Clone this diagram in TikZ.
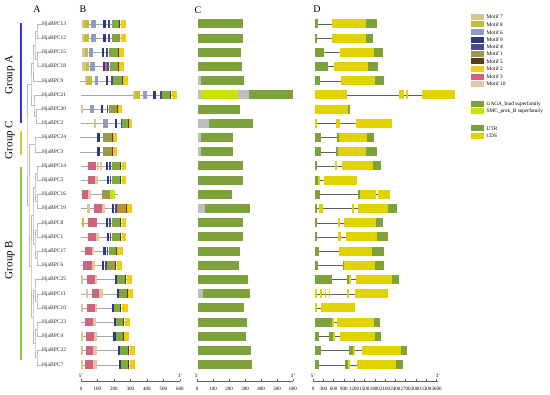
\documentclass[tikz,border=0pt]{standalone}
\usepackage{fontspec}
\setmainfont{Liberation Serif}
\definecolor{mseven}{HTML}{D9C38E}
\definecolor{meight}{HTML}{C4BD3A}
\definecolor{msix}{HTML}{8F9BC2}
\definecolor{mnine}{HTML}{2E3A80}
\definecolor{mfour}{HTML}{4B4A8F}
\definecolor{mone}{HTML}{9C9A44}
\definecolor{mgreen}{HTML}{7FA83F}
\definecolor{mfive}{HTML}{5A3B1F}
\definecolor{mtwo}{HTML}{F0CC12}
\definecolor{mthree}{HTML}{D0647C}
\definecolor{mten}{HTML}{E9C4A0}
\definecolor{gaga}{HTML}{7DA23C}
\definecolor{smc}{HTML}{C9E300}
\definecolor{domgray}{HTML}{BDBDBD}
\definecolor{utr}{HTML}{7DA23C}
\definecolor{cds}{HTML}{E1D300}
\definecolor{grpa}{HTML}{3434CC}
\definecolor{grpc}{HTML}{D0C820}
\definecolor{grpb}{HTML}{84D03C}
\usetikzlibrary{positioning}
\tikzset{
  genelab/.style={anchor=west, inner sep=0.5pt, font=\fontsize{5.5}{6}\selectfont, text=black!85},
  branch/.style={gray!55, line width=0.4pt},
  protline/.style={gray!70, line width=0.5pt},
  intron/.style={gray!75!black, line width=0.5pt},
  axisline/.style={gray!75!black, line width=0.4pt},
  ticklab/.style={font=\fontsize{5}{5}\selectfont, inner sep=0pt},
  panel/.style={font=\fontsize{10}{10}\selectfont, inner sep=0pt},
  grouplab/.style={rotate=90, font=\fontsize{11}{11}\selectfont, inner sep=0pt},
  legtext/.style={anchor=west, font=\fontsize{5.3}{6}\selectfont, inner sep=0pt},
  groupbar/.style={line width=1.5pt}
}
% motif row: y, line start, line end, colour/from/to list
\newcommand{\protrow}[4]{%
  \draw[protline] (#2,#1) -- (#3,#1);
  \foreach \col/\xa/\xb in {#4} {\fill[\col] (\xa,#1-4.3) rectangle (\xb,#1+4.3);}}
% domain row
\newcommand{\domrow}[2]{%
  \foreach \col/\xa/\xb in {#2} {\fill[\col] (\xa,#1-4.5) rectangle (\xb,#1+4.5);}}
% gene structure row
\newcommand{\exonrow}[4]{%
  \draw[intron] (#2,#1) -- (#3,#1);
  \foreach \col/\xa/\xb in {#4} {\fill[\col] (\xa,#1-4.5) rectangle (\xb,#1+4.5);}}
\begin{document}
\begin{tikzpicture}[x=1pt,y=-1pt]
  \path[fill=white] (0,0) rectangle (550,395);
  \useasboundingbox (0,0) rectangle (550,395);

  % panel letters
  \node[panel] (pa) at (37,9) {A};
  \node[panel] (pb) at (83,9) {B};
  \node[panel] (pc) at (198,10) {C};
  \node[panel] (pd) at (317,9) {D};

  % groups
  \draw[groupbar, grpa] (21,23) -- (21,123);
  \draw[groupbar, grpc] (21,131) -- (21,155);
  \draw[groupbar, grpb] (21,167) -- (21,360);
  \node[grouplab] (ga) at (10,75) {Group A};
  \node[grouplab] (gc) at (10,140) {Group C};
  \node[grouplab] (gb) at (10,260) {Group B};

  % gene names
  \foreach \n [count=\i] in {13,12,15,18,9,21,20,2,24,3,14,5,16,19,8,1,17,6,25,11,10,23,4,22,7}
    \node[genelab] (l\n) at (41.5,{24+14.2*(\i-1)}) {HjaBPC\n};

  % tree
  \foreach \n/\x/\y in {c12/37/31.1, c34/37/59.5, cx1/35/45.3, cx2/33/63.05,
      c78/36/116.3, c678/34/105.65, ca/31/84.35, cc/35/144.7,
      c1112/37/173.1, c1314/37/201.5, c1516/37/229.9, c1718/37/258.3,
      c1114/35/187.3, c1518/35/244.1, cb1/33/215.7, c2021/37/300.9,
      c1921/35/290.25, c2223/37/329.3, c2425/37/357.7, c2225/35/343.5,
      cb2/33/316.88, cb/31/266.3, ccb/29/205.5, root/27/144.9}
    \coordinate (\n) at (\x,\y);
  \foreach \a/\p/\b in {l13/c12/l12, l15/c34/l18, c12/cx1/c34, cx1/cx2/l9,
      l20/c78/l2, l21/c678/c78, cx2/ca/c678, l24/cc/l3,
      l14/c1112/l5, l16/c1314/l19, l8/c1516/l1, l17/c1718/l6,
      c1112/c1114/c1314, c1516/c1518/c1718, c1114/cb1/c1518,
      l11/c2021/l10, l25/c1921/c2021, l23/c2223/l4, l22/c2425/l7,
      c2223/c2225/c2425, c1921/cb2/c2225, cb1/cb/cb2, cc/ccb/cb, ca/root/ccb}
    \draw[branch] (\a) -| (\p) |- (\b);

  % B: motifs
  \protrow{24}{82}{126}{mseven/82/84, meight/84/89, msix/91/96, mnine/103/106, mfour/108/110, mgreen/112/119.3, mfive/119.3/120.3, mtwo/120.5/126}
  \protrow{38.2}{82}{126}{mseven/82/84, meight/84/89, msix/91/96, mnine/103/106, mfour/108/110, mgreen/112/119.3, mthree/119.3/120.3, mtwo/120.5/126}
  \protrow{52.4}{82}{124}{mseven/82/85, meight/85/88, msix/89/93, mnine/102/104, mfour/106/108, mgreen/109/118, mfive/118/119, mtwo/119/124}
  \protrow{66.6}{82}{124}{mseven/82/86, meight/86/89, msix/90/95, mnine/103/105, mthree/105/106.5, mfour/107/109, mgreen/110/118, mfive/118/119, mtwo/119/124}
  \protrow{80.8}{80}{128}{mseven/85/87, meight/87/92, msix/95/98, mnine/106/108, mfour/111/113, mgreen/113/122, mfive/122/123, mtwo/123/128}
  \protrow{95}{81}{177}{mseven/133/135, meight/135/140, msix/143/147, mnine/153/156, mfour/160/162, mgreen/162/170, mfive/170/171, mtwo/172/177}
  \protrow{109.2}{81}{122}{mseven/81/83, msix/90/94, mnine/101/103, mfour/107/108, mone/109/117, mfive/117/118, mtwo/118/122}
  \protrow{123.4}{81}{132}{mseven/94/96, msix/103/108, mnine/115/117, mfour/121/122, mgreen/122/128, mfive/128/129, mtwo/129/132}
  \protrow{137.6}{80}{117}{mnine/97/100, mone/103/112, mfive/112/113, mtwo/113/117}
  \protrow{151.8}{80}{117}{mnine/97/100, mone/103/112, mfive/112/113, mtwo/113/117}
  \protrow{166}{81}{126}{mthree/88/96, mten/97/99, mten/100/102, mnine/106/108, mfour/109/111, mgreen/112/120, mfive/120/121, mtwo/122/126}
  \protrow{180.2}{81}{126}{mthree/88/95, mten/95/98, mnine/107/109, mfour/110/111, mgreen/112/120, mfive/120/121, mtwo/122/126}
  \protrow{194.4}{81}{118}{mthree!85!gray/82/88, mten/88/91, mone/102/110, smc/110/115}
  \protrow{208.6}{81}{132}{mseven/87/90, mthree/94/102, mten/102/105, mnine/112/114, mfour/115/117, mthree/117/118, mone!70!orange/118/126, mfive/126/127, mtwo/127/132}
  \protrow{222.8}{81}{126}{meight/82/83.5, mthree/88/97, mnine/106/108, mfour/109/111, mgreen/112/120, mfive/120/121, mtwo/122/126}
  \protrow{237}{81}{126}{mthree/88/96, mten/96/99, mnine/107/109, mfour/110/111, mgreen/112/120, mfive/120/121, mtwo/122/126}
  \protrow{251.2}{81}{123}{mthree!85!gray/85/92, mten/92/94, mnine/103/106, mfour/107/108, mgreen/109/116, mfive/116/117, mtwo/117/123}
  \protrow{265.4}{81}{122}{mthree!85!gray/83/92, mten/92/95, mnine/102/104, mfour/105/107, mone/107/115, mfive/115/116, mtwo/117/122}
  \protrow{279.6}{81}{132}{mseven/81/83, mthree/87/95, mten/95/97, mnine/115/117, mgreen/117/125, mfive/125/126, mtwo/127/132}
  \protrow{293.8}{81}{133}{mseven/86/88, mthree!85!gray/92/99, mten/99/103, mnine/117/119, mgreen/119/127, mfive/127/128, mtwo/128/133}
  \protrow{308}{81}{128}{mseven/81/83, mthree/87/95, mten/95/97, mnine/112/113.5, mgreen/113.5/120, mfive/120/121, mtwo/122/128}
  \protrow{322.2}{81}{130}{mthree/85/93, mten/93/96, mnine/114/116, mgreen/116/123, mfive/123/124, mtwo/125/130}
  \protrow{336.4}{81}{129}{mseven/81/83, mthree/86/94, mten/94/97, mnine/113/116, mgreen/116/123, mfive/123/124, mtwo/124/129}
  \protrow{350.6}{81}{135}{mseven/81/83, mthree/86/93, mten/93/97, mnine/118/120, mgreen/120/128, mfive/128/129, mtwo/130/135}
  \protrow{364.8}{81}{135}{mseven/81/83, mthree/85/93, mten/93/97, mnine/119/121, mgreen/121/128, mfive/128/129, mtwo/130/135}

  % C: domains
  \domrow{24}{gaga/198/243}
  \domrow{38.2}{gaga/198/243}
  \domrow{52.4}{gaga/198/241}
  \domrow{66.6}{gaga/198/242}
  \domrow{80.8}{domgray/198/201, gaga/201/244}
  \domrow{95}{domgray/198/201, smc/201/238, domgray/238/249, gaga/249/293}
  \domrow{109.2}{gaga/198/240}
  \domrow{123.4}{domgray/198/209, gaga/209/253}
  \domrow{137.6}{domgray/198/201, gaga/201/233}
  \domrow{151.8}{domgray/198/201, gaga/201/233}
  \domrow{166}{gaga/198/243}
  \domrow{180.2}{gaga/198/243}
  \domrow{194.4}{gaga/198/232}
  \domrow{208.6}{domgray/198/205, gaga/205/250}
  \domrow{222.8}{gaga/198/243}
  \domrow{237}{gaga/198/243}
  \domrow{251.2}{gaga/198/240}
  \domrow{265.4}{gaga/198/239}
  \domrow{279.6}{gaga/198/248}
  \domrow{293.8}{domgray/198/203, gaga/203/250}
  \domrow{308}{gaga/198/244}
  \domrow{322.2}{gaga/198/247}
  \domrow{336.4}{gaga/198/246}
  \domrow{350.6}{gaga/198/251}
  \domrow{364.8}{gaga/198/252}

  % D: gene structures
  \exonrow{24}{315}{377}{utr/315/318, cds/332/366, utr/366/377}
  \exonrow{38.2}{315}{373}{utr/315/317, cds/332/366, utr/366/373}
  \exonrow{52.4}{315}{383}{utr/315/324, cds/340/374, utr/374/383}
  \exonrow{66.6}{315}{378}{utr/315/328, cds/334/368, utr/368/378}
  \exonrow{80.8}{315}{384}{utr/315/320, cds/341/375, utr/375/384}
  \exonrow{95}{315}{455}{cds/315/347, cds/399/404, cds/406/408, cds/422/455}
  \exonrow{109.2}{315}{349}{cds/315/348, utr/348/349.5}
  \exonrow{123.4}{315}{392}{cds/315/317, cds/336/340, cds/356/392}
  \exonrow{137.6}{315}{374}{utr/315/321, utr/337/338.5, cds/338.5/367, utr/367/374}
  \exonrow{151.8}{315}{377}{utr/315/321, utr/336/337.5, cds/337.5/366, utr/366/377}
  \exonrow{166}{315}{381}{utr/315/317, cds/335/337, cds/342/373, utr/373/381}
  \exonrow{180.2}{315}{357}{utr/315/318, cds/318/320, cds/324/357}
  \exonrow{194.4}{315}{390}{utr/315/320, utr/358/360, cds/360/376, cds/378/390}
  \exonrow{208.6}{315}{397}{utr/315/317, cds/319/323, cds/352/354, cds/358/388, utr/388/397}
  \exonrow{222.8}{315}{383}{utr/315/317, cds/338/340, cds/344/376, utr/376/383}
  \exonrow{237}{315}{388}{utr/315/317, cds/338/340.5, cds/346/377, utr/377/388}
  \exonrow{251.2}{315}{384}{utr/315/319, cds/339/372, utr/372/384}
  \exonrow{265.4}{315}{384}{utr/315/318, utr/343/344, cds/344/375, utr/375/384}
  \exonrow{279.6}{315}{399}{utr/315/332, utr/347/349, cds/349/351, cds/356/392, utr/392/399}
  \exonrow{293.8}{315}{388}{cds/315/317, cds/320/322, cds/325/326, cds/329/330, cds/347/349, cds/355/388}
  \exonrow{308}{315}{355}{cds/315/317, cds/321/355}
  \exonrow{322.2}{315}{380}{utr/315/332, cds/332/333.5, cds/337/374, utr/374/380}
  \exonrow{336.4}{315}{381}{utr/315/319, utr/329/333, cds/333/335, cds/340/375, utr/375/381}
  \exonrow{350.6}{315}{407}{utr/315/321, utr/349/353, cds/353/354.5, cds/362/401, utr/401/407}
  \exonrow{364.8}{315}{403}{utr/315/319, utr/345/348, cds/348/350, cds/357/396, utr/396/403}

  % axes
  \draw[axisline] (81,381) -- (180,381);
  \foreach \v in {0,100,...,600} {
    \draw[axisline] ({81+\v*0.165},381) -- ++(0,-2);
    \node[ticklab] at ({81+\v*0.165},388.5) {\v};}
  \node[ticklab] (b5) at (81,375.5) {5'};
  \node[ticklab] (b3) at (180,375.5) {3'};
  \draw[axisline] (197,381) -- (293,381);
  \foreach \v in {0,100,...,600} {
    \draw[axisline] ({197+\v*0.16},381) -- ++(0,-2);
    \node[ticklab] at ({197+\v*0.16},388.5) {\v};}
  \node[ticklab] (c5) at (197,375.5) {5'};
  \node[ticklab] (c3) at (293,375.5) {3'};
  \draw[axisline] (313,381) -- (438,381);
  \foreach \v in {0,300,...,3600} {
    \draw[axisline] ({313+\v*0.03433},381) -- ++(0,-2);
    \node[ticklab] at ({313+\v*0.03433},388.5) {\v};}
  \node[ticklab] (d5) at (313,375.5) {5'};
  \node[ticklab] (d3) at (438,375.5) {3'};

  % legend
  \foreach \col/\y/\txt in {mseven/16.7/Motif 7, meight/24.3/Motif 8, msix/32.3/Motif 6,
      mnine/40/Motif 9, mfour/46.7/Motif 4, mone/54/Motif 1, mfive/61.3/Motif 5,
      mtwo/69/Motif 2, mthree/76.7/Motif 3, mten/84/Motif 10,
      gaga/104/GAGA\_bind superfamily, smc/111.3/SMC\_prok\_B superfamily,
      utr/128.3/UTR, cds/136/CDS} {
    \fill[\col] (471,\y-3) rectangle (484,\y+3);
    \node[legtext] at (486.5,\y) {\txt};}
\end{tikzpicture}
\end{document}
